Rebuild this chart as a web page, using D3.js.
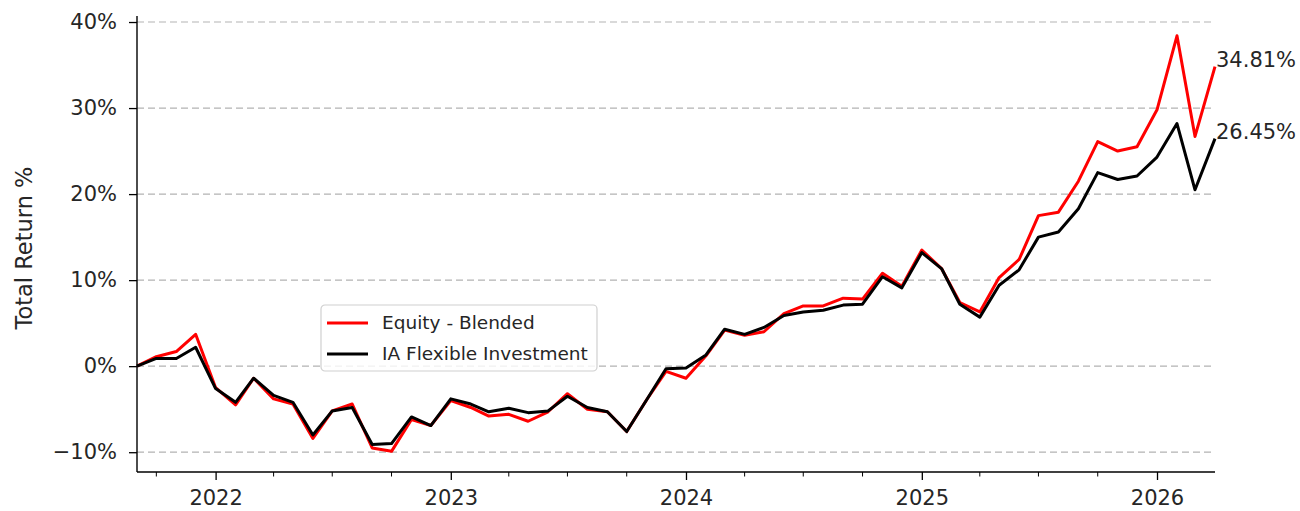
<!DOCTYPE html>
<html>
<head>
<meta charset="utf-8">
<script src="https://cdn.jsdelivr.net/npm/d3@7"></script>
<style>
  html, body { margin: 0; padding: 0; background: #fff; }
  svg { display: block; font-family: "DejaVu Sans", sans-serif; }
</style>
</head>
<body>
<svg id="chart" width="1300" height="511"></svg>
<script>
// ---- data ----
const months = [
  "2021-09","2021-10","2021-11","2021-12",
  "2022-01","2022-02","2022-03","2022-04","2022-05","2022-06","2022-07","2022-08","2022-09","2022-10","2022-11","2022-12",
  "2023-01","2023-02","2023-03","2023-04","2023-05","2023-06","2023-07","2023-08","2023-09","2023-10","2023-11","2023-12",
  "2024-01","2024-02","2024-03","2024-04","2024-05","2024-06","2024-07","2024-08","2024-09","2024-10","2024-11","2024-12",
  "2025-01","2025-02","2025-03","2025-04","2025-05","2025-06","2025-07","2025-08","2025-09","2025-10","2025-11","2025-12",
  "2026-01","2026-02","2026-03","2026-04"
];
const equityBlended = [
  0.0, 1.1, 1.7, 3.7,
  -2.5, -4.5, -1.4, -3.8, -4.4, -8.4, -5.2, -4.4, -9.5, -9.9, -6.2, -6.9,
  -4.0, -4.8, -5.8, -5.6, -6.4, -5.3, -3.2, -5.0, -5.3, -7.6, -3.9, -0.6,
  -1.4, 1.2, 4.2, 3.6, 4.0, 6.1, 7.0, 7.0, 7.9, 7.8, 10.8, 9.3,
  13.5, 11.3, 7.4, 6.3, 10.3, 12.4, 17.5, 17.9, 21.5, 26.1, 25.0, 25.5,
  29.8, 38.4, 26.7, 34.81
];
const iaFlexible = [
  0.0, 0.9, 0.9, 2.2,
  -2.6, -4.2, -1.4, -3.4, -4.2, -8.0, -5.2, -4.8, -9.1, -9.0, -5.9, -6.9,
  -3.8, -4.4, -5.3, -4.9, -5.4, -5.2, -3.5, -4.8, -5.3, -7.6, -3.9, -0.3,
  -0.2, 1.3, 4.3, 3.7, 4.5, 5.9, 6.3, 6.5, 7.1, 7.2, 10.4, 9.1,
  13.2, 11.3, 7.2, 5.7, 9.4, 11.2, 15.0, 15.6, 18.3, 22.5, 21.7, 22.1,
  24.3, 28.2, 20.5, 26.45
];
const seriesNames = ["Equity - Blended", "IA Flexible Investment"];
const seriesColors = ["#ff0000", "#000000"];
const yTicks = [-10, 0, 10, 20, 30, 40];
const xTickYears = ["2022", "2023", "2024", "2025", "2026"];
const yLabel = "Total Return %";

// ---- layout ----
const svg = d3.select("#chart");
const pL = 137, pR = 1215, pT = 16, pB = 472;
const parseMonth = d3.timeParse("%Y-%m");
const dates = months.map(parseMonth);

const x = d3.scaleTime().domain([dates[0], dates[dates.length - 1]]).range([pL, pR]);
const y = d3.scaleLinear().domain([-12.3, 40.7]).range([pB, pT]);

// grid
svg.append("g")
  .selectAll("line")
  .data(yTicks)
  .join("line")
  .attr("x1", pL).attr("x2", pR)
  .attr("y1", d => y(d)).attr("y2", d => y(d))
  .attr("stroke", "#b3b3b3")
  .attr("stroke-width", 1.2)
  .attr("stroke-dasharray", "7,4");

// lines
const series = [equityBlended, iaFlexible];
const line = d3.line().x((d, i) => x(dates[i])).y(d => y(d));
series.forEach((s, k) => {
  svg.append("path")
    .datum(s)
    .attr("fill", "none")
    .attr("stroke", seriesColors[k])
    .attr("stroke-width", 3)
    .attr("stroke-linejoin", "round")
    .attr("d", line);
});

// y axis
const fmt = d => (d < 0 ? "\u2212" + Math.abs(d) : d) + "%";
const yAxis = svg.append("g")
  .attr("transform", `translate(${pL},0)`)
  .call(d3.axisLeft(y).tickValues(yTicks).tickFormat(fmt).tickSize(8).tickPadding(12));
yAxis.select(".domain").attr("d", `M0,${pT}V${pB}`).attr("stroke-width", 1.4);
yAxis.selectAll(".tick line").attr("stroke-width", 1.3);
yAxis.selectAll("text").attr("font-size", 21).attr("fill", "#262626").attr("font-family", "DejaVu Sans");

// x axis
const majorDates = xTickYears.map(d3.timeParse("%Y"));
const minorDates = d3.timeMonth.every(3).range(dates[0], dates[dates.length - 1]);
const xAxis = svg.append("g")
  .attr("transform", `translate(0,${pB})`)
  .call(d3.axisBottom(x).tickValues(majorDates).tickFormat(d3.timeFormat("%Y")).tickSize(8).tickPadding(10));
xAxis.select(".domain").attr("d", `M${pL},0H${pR}`).attr("stroke-width", 1.4);
xAxis.selectAll(".tick line").attr("stroke-width", 1.3);
xAxis.selectAll("text").attr("font-size", 21).attr("fill", "#262626").attr("font-family", "DejaVu Sans");
xAxis.append("g").selectAll("line")
  .data(minorDates.filter(d => d.getMonth() !== 0))
  .join("line")
  .attr("x1", d => x(d)).attr("x2", d => x(d))
  .attr("y1", 0).attr("y2", 4.5)
  .attr("stroke", "#000").attr("stroke-width", 1);

// y label
svg.append("text")
  .attr("transform", `translate(32,${(pT + pB) / 2 + 4}) rotate(-90)`)
  .attr("text-anchor", "middle")
  .attr("font-size", 22.5)
  .attr("fill", "#262626")
  .text(yLabel);

// end annotations
series.forEach((s, k) => {
  svg.append("text")
    .attr("x", x(dates[dates.length - 1]) + 1)
    .attr("y", y(s[s.length - 1]))
    .attr("font-size", 21)
    .attr("fill", "#262626")
    .text(s[s.length - 1].toFixed(2) + "%");
});

// legend
const lg = svg.append("g").attr("transform", "translate(321,305)");
lg.append("rect")
  .attr("width", 276).attr("height", 66).attr("rx", 4)
  .attr("fill", "#fff").attr("fill-opacity", 0.8)
  .attr("stroke", "#d0d0d0").attr("stroke-width", 1.2);
seriesNames.forEach((n, k) => {
  const ry = 18 + k * 31;
  lg.append("line")
    .attr("x1", 6).attr("x2", 47).attr("y1", ry).attr("y2", ry)
    .attr("stroke", seriesColors[k]).attr("stroke-width", 3);
  lg.append("text")
    .attr("x", 61).attr("y", ry)
    .attr("dy", "0.35em")
    .attr("font-size", 18.5)
    .attr("fill", "#262626")
    .text(n);
});
</script>
</body>
</html>
